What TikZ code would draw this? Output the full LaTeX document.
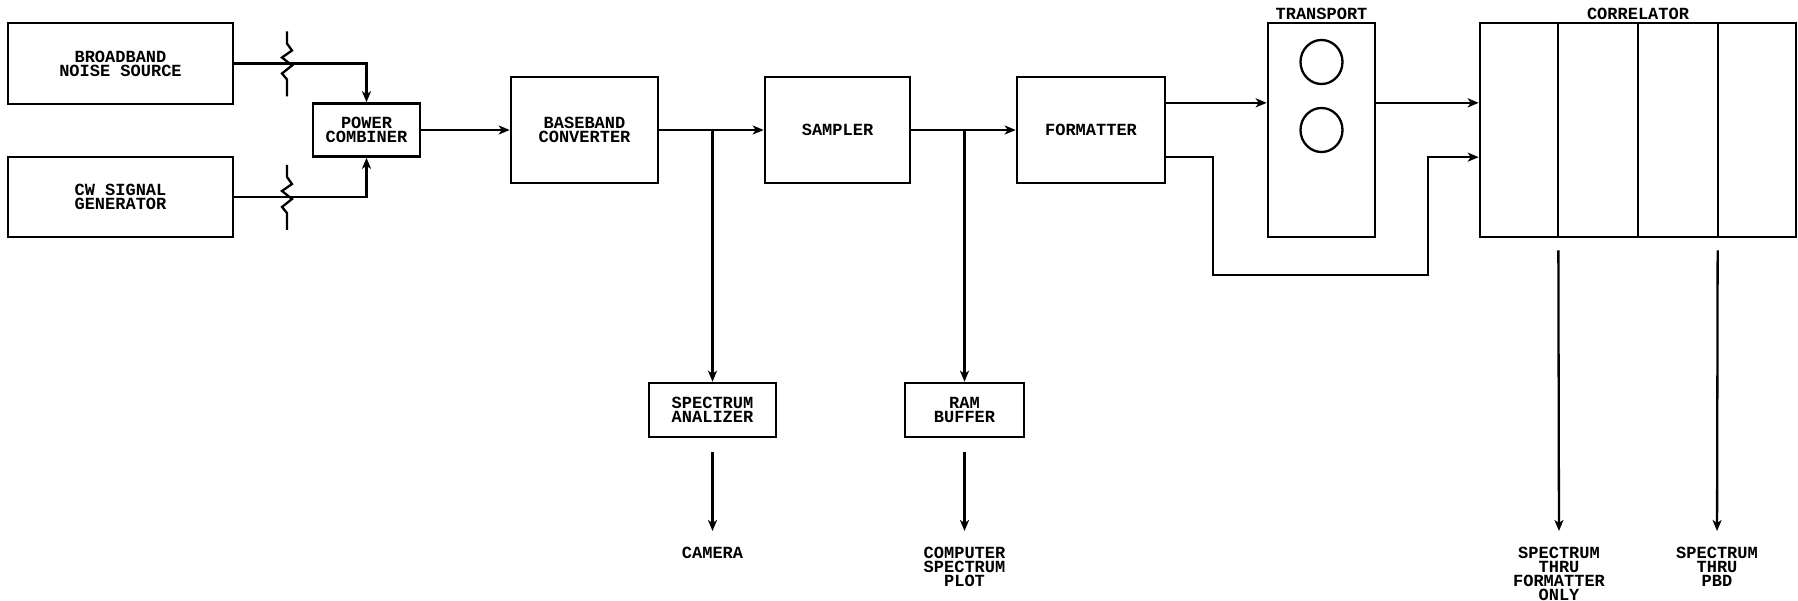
\documentclass[tikz,border=0pt]{standalone}
\usepackage{fontspec}
\setmonofont{Liberation Mono}
\usetikzlibrary{positioning,arrows.meta,calc}
\tikzset{
  blok/.style={rectangle,draw,line width=2.6pt,align=center,inner sep=0pt,font=\ttfamily\bfseries\fontsize{17}{14}\selectfont},
  popis/.style={align=center,inner sep=0pt,anchor=north,font=\ttfamily\bfseries\fontsize{17}{14}\selectfont},
  hrana/.style={line width=2.3pt},
  sip/.style={-{Stealth[length=11pt,width=9pt,inset=3pt]},line width=2.3pt},
  sipd/.style={sip,shorten >=16pt},
}

\begin{document}
\begin{tikzpicture}[x=1pt,y=-1pt]
  \useasboundingbox (0,0) rectangle (1798,601);
  % vstupy
  \node[blok,minimum width=225pt,minimum height=81pt] (bns) at (120.5,63.5) {BROADBAND\\NOISE SOURCE};
  \node[blok,minimum width=225pt,minimum height=80pt] (cw) at (120.5,197) {CW SIGNAL\\GENERATOR};
  \node[blok,minimum width=107pt,minimum height=53pt] (pc) at (366.5,130) {POWER\\COMBINER};
  % hlavni rada
  \node[blok,minimum width=147pt,minimum height=106pt] (bb) at (584.5,130) {BASEBAND\\CONVERTER};
  \node[blok,minimum width=145pt,minimum height=106pt] (smp) at (837.5,130) {SAMPLER};
  \node[blok,minimum width=148pt,minimum height=106pt] (fmt) at (1091,130) {FORMATTER};
  \node[blok,minimum width=107pt,minimum height=214pt] (trn) at (1321.5,130) {};
  \node[blok,minimum width=316pt,minimum height=214pt] (cor) at (1638,130) {};
  \node[popis,anchor=base] (trnl) at ($(trn.north)+(0,-2)$) {TRANSPORT};
  \node[popis,anchor=base] (corl) at ($(cor.north)+(0,-2)$) {CORRELATOR};
  % odbocky
  \node[blok,minimum width=127pt,minimum height=54pt] (sa) at (712.5,410) {SPECTRUM\\ANALIZER};
  \node[blok,minimum width=119pt,minimum height=54pt] (ram) at (964.5,410) {RAM\\BUFFER};
  \node[popis] (cam) at (712.5,547) {CAMERA};
  \node[popis] (plt) at (964.5,547) {COMPUTER\\SPECTRUM\\PLOT};
  \node[popis] (o1) at (1559,547) {SPECTRUM\\THRU\\FORMATTER\\ONLY};
  \node[popis] (o2) at (1717,547) {SPECTRUM\\THRU\\PBD};

  % kotouce a deleni
  \draw[hrana] ($(trn.center)+(0,-68)$) ellipse [x radius=21, y radius=22];
  \draw[hrana] (trn.center) ellipse [x radius=21, y radius=22];
  \foreach \f in {0.25,0.5,0.75}
    \draw[line width=1.8pt] ($(cor.north west)!\f!(cor.north east)$) -- ($(cor.south west)!\f!(cor.south east)$);

  % spoje
  \draw[sip] (bns.east) -| (pc.north);
  \draw[sip] (cw.east) -| (pc.south);
  \foreach \yy in {63.5,197}
    \draw[hrana] (287,\yy-32) -- (287,\yy-20) -- (292,\yy-13) -- (282,\yy-6) -- (292,\yy+2)
      -- (282,\yy+10) -- (287,\yy+16) -- (287,\yy+33);
  \draw[sip] (pc.east) -- (bb.west);
  \draw[sip] (bb.east) -- (smp.west);
  \draw[sip] (smp.east) -- (fmt.west);
  \draw[sip] (sa.north |- bb.east) -- (sa.north);
  \draw[sip] (ram.north |- smp.east) -- (ram.north);
  \coordinate (sa-o) at ($(sa.south)+(0,14)$);
  \coordinate (ram-o) at ($(ram.south)+(0,14)$);
  \draw[sipd] (sa-o) -- (cam.north);
  \draw[sipd] (ram-o) -- (plt.north);

  \coordinate (f1) at ($(fmt.north east)!0.25!(fmt.south east)$);
  \coordinate (f2) at ($(fmt.north east)!0.75!(fmt.south east)$);
  \coordinate (ob1) at (1213,275);
  \coordinate (ob2) at (1428,275);
  \draw[sip] (f1) -- (f1 -| trn.west);
  \draw[sip] (f1 -| trn.east) -- (f1 -| cor.west);
  \draw[sip] (f2) -| (ob1) -| (ob2 |- f2) -- (f2 -| cor.west);

  \coordinate (c1) at ($(cor.south west)!0.25!(cor.south east)+(0,12)$);
  \coordinate (c2) at ($(cor.south west)!0.75!(cor.south east)+(0,12)$);
  \draw[sipd] (c1) -- (o1.north);
  \draw[sipd] (c2) -- (o2.north);
\end{tikzpicture}
\end{document}
